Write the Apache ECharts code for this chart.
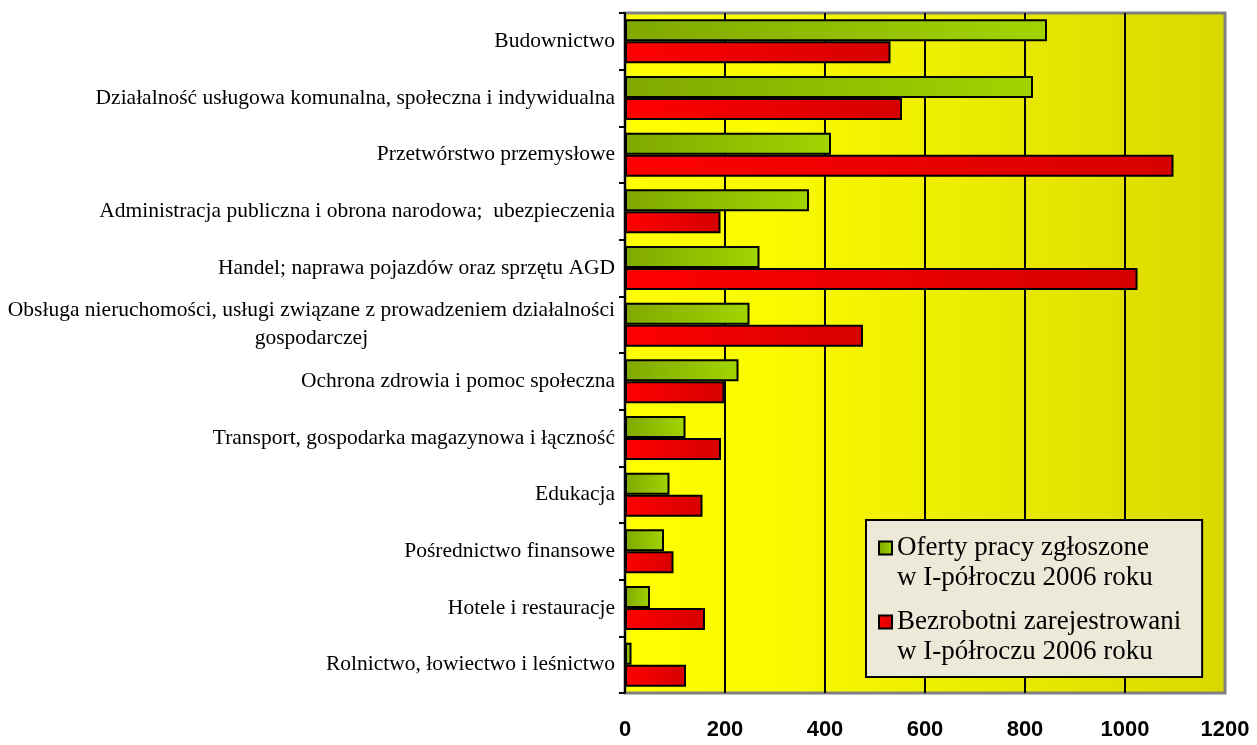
<!DOCTYPE html>
<html>
<head>
<meta charset="utf-8">
<script src="https://cdn.jsdelivr.net/npm/echarts@6/dist/echarts.min.js"></script>
<style>html,body{margin:0;padding:0;background:#fff;}#c{width:1257px;height:745px;}</style>
</head>
<body>
<div id="c"></div>
<script>
const categories = [
  'Budownictwo',
  'Działalność usługowa komunalna, społeczna i indywidualna',
  'Przetwórstwo przemysłowe',
  'Administracja publiczna i obrona narodowa;  ubezpieczenia',
  'Handel; naprawa pojazdów oraz sprzętu AGD',
  'Obsługa nieruchomości, usługi związane z prowadzeniem działalności\ngospodarczej',
  'Ochrona zdrowia i pomoc społeczna',
  'Transport, gospodarka magazynowa i łączność',
  'Edukacja',
  'Pośrednictwo finansowe',
  'Hotele i restauracje',
  'Rolnictwo, łowiectwo i leśnictwo'
];
const seriesNames = [
  'Oferty pracy zgłoszone\nw I-półroczu 2006 roku',
  'Bezrobotni zarejestrowani\nw I-półroczu 2006 roku'
];
const oferty = [844, 816, 412, 368, 269, 249, 227, 121, 89, 78, 50, 13];
const bezrobotni = [531, 554, 1097, 191, 1025, 476, 199, 192, 155, 97, 160, 122];
const xTicks = [0, 200, 400, 600, 800, 1000, 1200];

const chart = echarts.init(document.getElementById('c'), null, {renderer: 'canvas'});
const serif = '"Liberation Serif", "Times New Roman", serif';
const greenGrad = {type: 'linear', x: 0, y: 0, x2: 1, y2: 0, colorStops: [{offset: 0, color: '#80A800'}, {offset: 1, color: '#A2D400'}]};
const redGrad = {type: 'linear', x: 0, y: 0, x2: 1, y2: 0, colorStops: [{offset: 0, color: '#FF0000'}, {offset: 1, color: '#D60000'}]};
const iconPath = 'path://M0,0L13,0L13,13L0,13ZM0,43';

chart.setOption({
  animation: false,
  backgroundColor: '#ffffff',
  grid: {
    left: 625, right: 32, top: 13, bottom: 52,
    show: true,
    borderColor: '#808080', borderWidth: 3,
    backgroundColor: {type: 'linear', x: 0, y: 0, x2: 1, y2: 0, colorStops: [
      {offset: 0, color: '#FFFF00'}, {offset: 0.25, color: '#FAFA00'}, {offset: 1, color: '#D9D900'}]}
  },
  legend: {
    orient: 'vertical',
    left: 866, top: 520,
    selectedMode: false,
    backgroundColor: '#ECE9D8',
    borderColor: '#000', borderWidth: 2,
    padding: [13, 21, 10, 12],
    itemGap: 14,
    itemWidth: 13, itemHeight: 43,
    textStyle: {fontFamily: serif, fontSize: 27, lineHeight: 30, color: '#000'},
    data: [
      {name: seriesNames[0], icon: iconPath},
      {name: seriesNames[1], icon: iconPath}
    ]
  },
  xAxis: {
    type: 'value', min: xTicks[0], max: xTicks[xTicks.length - 1], interval: 200,
    axisLine: {show: false}, axisTick: {show: false},
    axisLabel: {margin: 26, color: '#000', fontWeight: 'bold', fontSize: 22, fontFamily: '"Liberation Sans", Arial, sans-serif',
      formatter: function (v) { return String(v); }},
    splitLine: {show: true, showMinLine: false, showMaxLine: false, lineStyle: {color: '#000', width: 2}}
  },
  yAxis: {
    type: 'category', data: categories, inverse: true,
    axisLine: {show: true, lineStyle: {color: '#000', width: 2}},
    axisTick: {show: true, length: 6, lineStyle: {color: '#000', width: 2}},
    axisLabel: {
      margin: 10, color: '#000', fontSize: 21.5, fontFamily: serif, lineHeight: 28,
      formatter: function (v) {
        return v.split('\n').map(function (s) { return '{c|' + s + '}'; }).join('\n');
      },
      rich: {c: {align: 'center', fontSize: 21.5, fontFamily: serif, color: '#000', lineHeight: 28}}
    }
  },
  series: [
    {name: seriesNames[0], type: 'bar', data: oferty, barWidth: 22, barGap: '0%',
     itemStyle: {color: greenGrad, borderColor: '#000', borderWidth: 2}},
    {name: seriesNames[1], type: 'bar', data: bezrobotni, barWidth: 22, barGap: '0%',
     itemStyle: {color: redGrad, borderColor: '#000', borderWidth: 2}}
  ]
});
</script>
</body>
</html>
